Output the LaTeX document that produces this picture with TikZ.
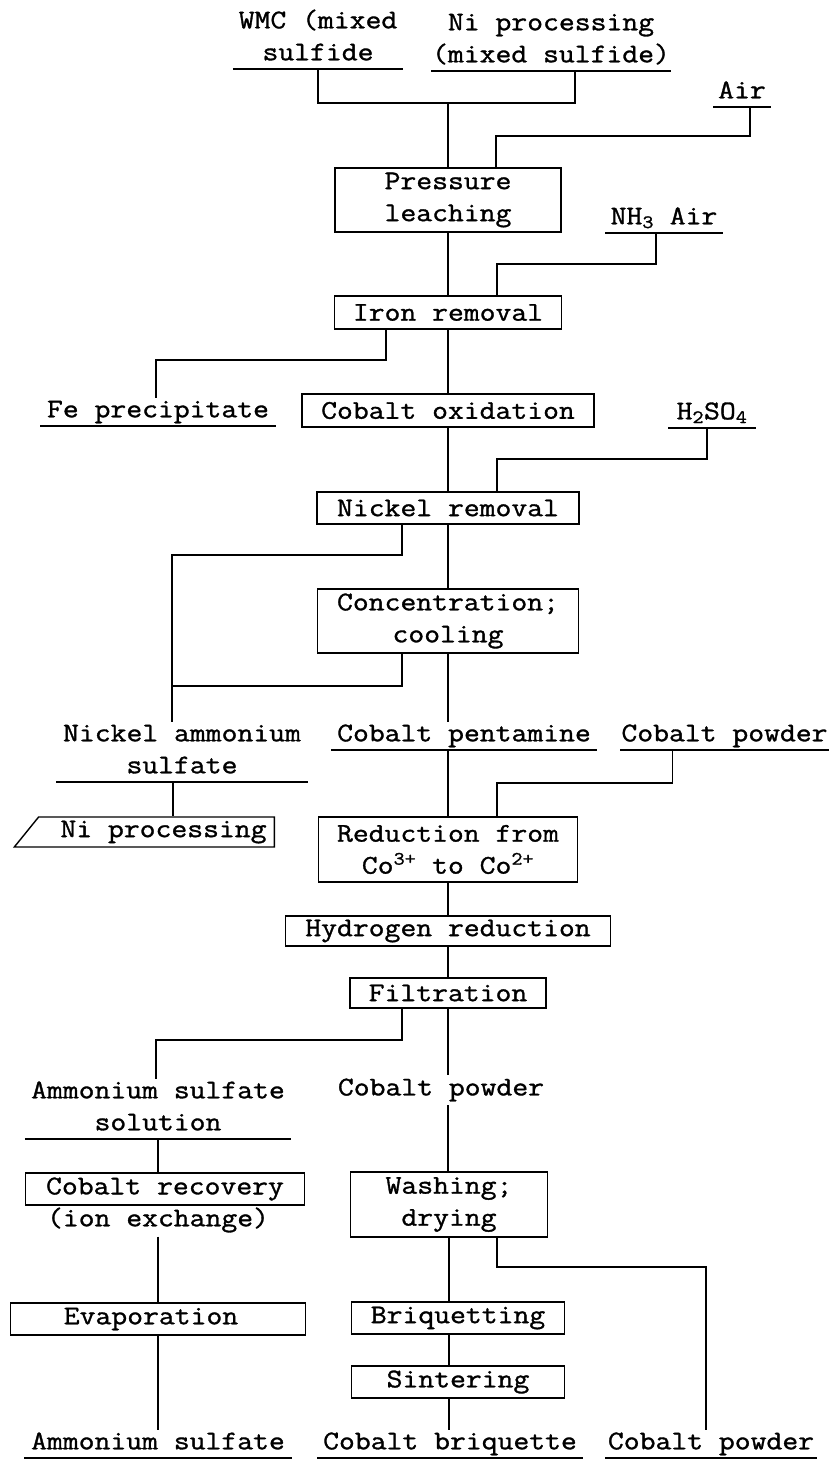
\documentclass[tikz,border=0pt]{standalone}
\usepackage{fontspec}
\setmonofont{Latin Modern Mono}[FakeStretch=1.14, FakeBold=1.2]
\usetikzlibrary{shapes.geometric}

\begin{document}
\begin{tikzpicture}[x=1pt, y=-1pt, line width=1.4pt,
  font=\ttfamily\fontsize{27}{32}\selectfont,
  unit/.style={rectangle, draw, align=center, inner sep=0pt},
  stream/.style={align=center, anchor=south, inner xsep=0pt, inner ysep=2pt, text depth=6pt}]
\useasboundingbox (0,0) rectangle (828,1461);
\node[stream, minimum width=169pt] (wmc) at (318,69) {WMC (mixed\\sulfide};
\node[stream, minimum width=214pt] (niin) at (551,71) {Ni processing\\(mixed sulfide)};
\node[stream, minimum width=56pt] (air) at (742,107) {Air};
\node[unit, minimum width=226pt, minimum height=64pt] (press) at (448,200) {Pressure\\leaching};
\node[stream, minimum width=116pt] (nh3) at (664,233) {NH\textsubscript{3} Air};
\node[unit, minimum width=227pt, minimum height=33pt] (iron) at (448,312.5) {Iron removal};
\node[stream, minimum width=234pt] (fep) at (158,426) {Fe precipitate};
\node[unit, minimum width=292pt, minimum height=33pt] (cobox) at (448,410.5) {Cobalt oxidation};
\node[stream, minimum width=86pt] (acid) at (712,428) {H\textsubscript{2}SO\textsubscript{4}};
\node[unit, minimum width=262pt, minimum height=32pt] (nirem) at (448,508) {Nickel removal};
\node[unit, minimum width=261pt, minimum height=64pt] (conc) at (448,621) {Concentration;\\cooling};
\node[stream, minimum width=250pt] (nias) at (182,782) {Nickel ammonium\\sulfate};
\node[stream, minimum width=264pt] (copent) at (464,750) {Cobalt pentamine};
\node[stream, minimum width=207pt] (copow) at (724.5,750) {Cobalt powder};
\node[trapezium, draw, trapezium left angle=45, trapezium right angle=90, trapezium stretches=true,
  minimum width=261pt, minimum height=30pt, inner sep=0pt] (nipro) at (156.5,832) {\hspace{14pt}Ni processing};
\node[unit, minimum width=259pt, minimum height=65pt] (redu) at (448,849.5) {Reduction from\\Co\textsuperscript{3+} to Co\textsuperscript{2+}};
\node[unit, minimum width=325pt, minimum height=30pt] (hydro) at (448,931) {Hydrogen reduction};
\node[unit, minimum width=196pt, minimum height=30pt] (filt) at (448,993) {Filtration};
\node[stream, minimum width=265pt] (amsol) at (158,1139) {Ammonium sulfate\\solution};
\node (copowb) at (441,1090) {Cobalt powder};
\node[unit, minimum width=279pt, minimum height=32pt] (corec) at (165,1189) {Cobalt recovery};
\node (ionx) at (158,1220) {(ion exchange)};
\node[unit, minimum width=295pt, minimum height=32pt] (evap) at (158,1319) {Evaporation\hspace{14pt}};
\node[unit, minimum width=197pt, minimum height=65pt] (wash) at (449,1204.5) {Washing;\\drying};
\node[unit, minimum width=213pt, minimum height=32pt] (briq) at (458,1318) {Briquetting};
\node[unit, minimum width=213pt, minimum height=32pt] (sint) at (458,1382) {Sintering};
\node[stream, minimum width=266pt] (amsul) at (158,1458) {Ammonium sulfate};
\node[stream, minimum width=264pt] (cobriq) at (450,1458) {Cobalt briquette};
\node[stream, minimum width=210pt] (copowc) at (711,1458) {Cobalt powder};
\foreach \n in {wmc,niin,air,nh3,fep,acid,nias,copent,copow,amsol,amsul,cobriq,copowc}
  \draw (\n.south west) -- (\n.south east);
\coordinate (feed) at (448,103);
\coordinate (airj) at (496,136);
\coordinate (nh3j) at (497,264);
\coordinate (fej) at (386,360);
\coordinate (acidj) at (497,459);
\coordinate (nij) at (402,555);
\coordinate (conj) at (402,686);
\coordinate (nicol) at (172,686);
\coordinate (powj) at (497,783);
\coordinate (filtj) at (402,1040);
\coordinate (washj) at (497,1267);
\draw (wmc.south) |- (feed) -| ([xshift=24pt]niin.south);
\draw (feed) -- (press);
\draw ([xshift=8pt]air.south) |- (airj) -- (airj |- press.north);
\draw (press) -- (iron);
\draw ([xshift=-8pt]nh3.south) |- (nh3j) -- (nh3j |- iron.north);
\draw (iron) -- (cobox);
\draw (fej |- iron.south) -- (fej) -| ([xshift=-2pt]fep.north);
\draw ([xshift=-5pt]acid.south) |- (acidj) -- (acidj |- nirem.north);
\draw (cobox) -- (nirem);
\draw (nirem) -- (conc);
\draw (nij |- nirem.south) -- (nij) -| (nicol |- nias.north);
\draw (conj |- conc.south) -- (conj) -- (nicol);
\draw (conc.south) -- (conc.south |- copent.north);
\draw ([xshift=-9pt]nias.south) -- ([xshift=-9pt]nias.south |- nipro.north);
\draw (redu.north |- copent.south) -- (redu.north);
\draw ([xshift=-52pt]copow.south) |- (powj) -- (powj |- redu.north);
\draw (redu) -- (hydro);
\draw (hydro) -- (filt);
\draw (filtj |- filt.south) -- (filtj) -| ([xshift=-2pt]amsol.north);
\draw (filt.south) -- (filt.south |- copowb.north);
\draw (filt.south |- copowb.south) -- (filt.south |- wash.north);
\draw (amsol.south) -- (amsol.south |- corec.north);
\draw (ionx.south) -- (ionx.south |- evap.north);
\draw (amsul.north |- evap.south) -- (amsul.north);
\draw (wash.south) -- (wash.south |- briq.north);
\draw (wash.south |- briq.south) -- (wash.south |- sint.north);
\draw (wash.south |- sint.south) -- (wash.south |- cobriq.north);
\draw (washj |- wash.south) -- (washj) -| ([xshift=-5pt]copowc.north);
\end{tikzpicture}
\end{document}
